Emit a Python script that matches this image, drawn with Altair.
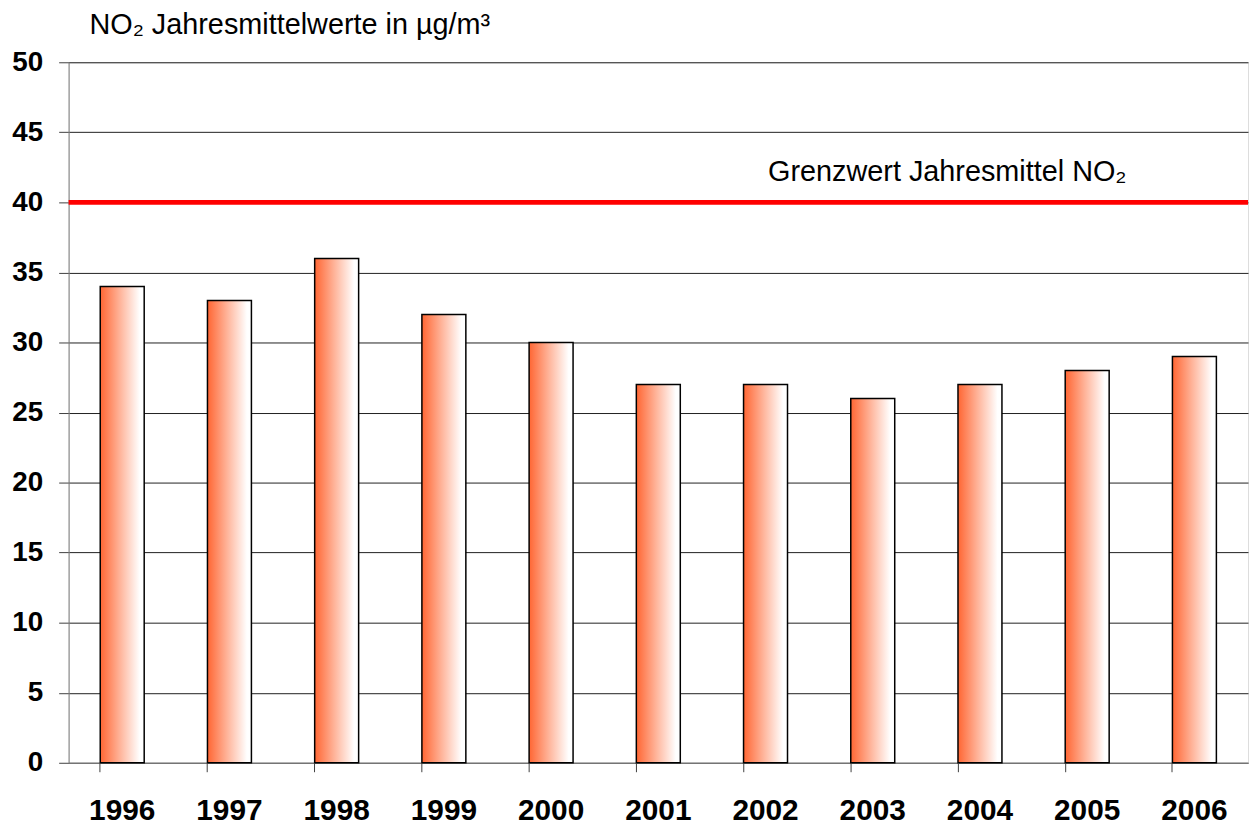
import altair as alt
import pandas as pd

# ---- data ----
years = ["1996", "1997", "1998", "1999", "2000", "2001", "2002", "2003", "2004", "2005", "2006"]
values = [34, 33, 36, 32, 30, 27, 27, 26, 27, 28, 29]
limit_value = [40]
limit_label = ["Grenzwert Jahresmittel NO\u2082"]
chart_title = ["NO\u2082 Jahresmittelwerte in \u00b5g/m\u00b3"]
y_ticks = [0, 5, 10, 15, 20, 25, 30, 35, 40, 45, 50]

W, H = 1187, 705
FONT = "Liberation Sans"

df = pd.DataFrame({"year": years, "value": values})
lim = pd.DataFrame({"value": limit_value, "label": limit_label})
ttl = pd.DataFrame({"t": chart_title})

gradient = alt.Gradient(
    gradient="linear",
    stops=[
        alt.GradientStop(color="#FF6633", offset=0),
        alt.GradientStop(color="#FFB49A", offset=0.45),
        alt.GradientStop(color="#FFFFFF", offset=0.9),
    ],
    x1=0, x2=1, y1=0, y2=0,
)

xscale = alt.Scale(paddingInner=0.59, paddingOuter=0.295)
yscale = alt.Scale(domain=[0, 50], nice=False, zero=True)

bars = alt.Chart(df).mark_bar(fill=gradient, stroke="black", strokeWidth=1.5).encode(
    x=alt.X("year:N", sort=years, scale=xscale, title=None,
            axis=alt.Axis(labelAngle=0, bandPosition=0, tickSize=9, tickColor="#404040",
                          domainColor="#808080", labelFontSize=30, labelFontWeight="bold",
                          labelFont=FONT, labelColor="black", labelPadding=24,
                          labelBaseline="top", grid=False)),
    y=alt.Y("value:Q", scale=yscale, title=None,
            axis=alt.Axis(values=y_ticks, tickSize=10, tickColor="#404040",
                          domainColor="#808080", labelFontSize=28, labelFontWeight="bold",
                          labelFont=FONT, labelColor="black", labelPadding=16,
                          grid=True, gridColor="#202020", gridWidth=1)),
)

rule = alt.Chart(lim).mark_rule(color="#FF0000", strokeWidth=5).encode(
    y=alt.Y("value:Q", scale=yscale, title=None)
)

limit_text = alt.Chart(lim).mark_text(
    align="left", baseline="alphabetic", dy=-22, fontSize=29, font=FONT, color="black"
).encode(
    x=alt.value(704),
    y=alt.Y("value:Q", scale=yscale, title=None),
    text="label:N",
)

title_text = alt.Chart(ttl).mark_text(
    align="left", baseline="alphabetic", fontSize=29, font=FONT, color="black"
).encode(
    x=alt.value(21),
    y=alt.value(-28),
    text="t:N",
)

chart = alt.layer(bars, rule, limit_text, title_text).properties(
    width=W, height=H,
    autosize=alt.AutoSizeParams(type="none"),
    padding={"left": 61, "top": 52, "right": 2, "bottom": 60},
).configure_view(stroke="#808080", strokeWidth=1).configure(background="white")

chart.save("out.html", embed_options={"renderer": "svg", "actions": False})
